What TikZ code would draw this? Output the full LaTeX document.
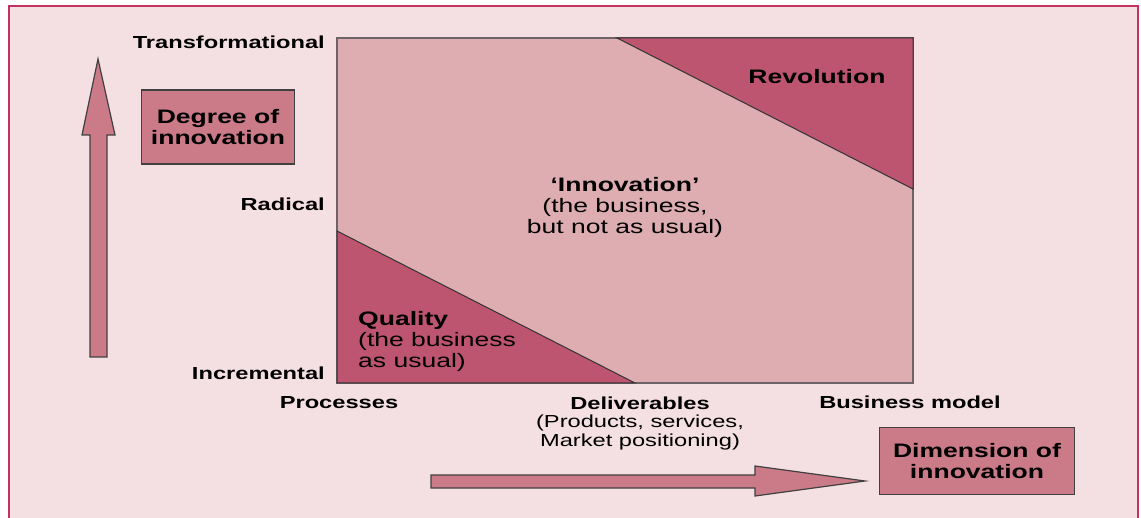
\documentclass[tikz,border=0pt]{standalone}
\usepackage{fontspec}
\setmainfont{Liberation Sans}[FakeStretch=1.36]

\definecolor{framered}{HTML}{C2335F}
\definecolor{paper}{HTML}{F4E0E3}
\definecolor{squarepink}{HTML}{DEADB2}
\definecolor{deeprose}{HTML}{BD5570}
\definecolor{boxrose}{HTML}{CB7A87}
\definecolor{edgegray}{HTML}{6E6467}

\tikzset{
    axislabel/.style={font=\fontsize{17.4}{19}\selectfont\bfseries, inner sep=0pt},
    sublabel/.style={font=\fontsize{17.4}{19}\selectfont, inner sep=0pt, align=center},
    zonetext/.style={font=\fontsize{19.5}{21}\selectfont, inner sep=0pt},
    labelbox/.style={draw=black!75, line width=1.3pt, fill=boxrose, align=center,
        font=\fontsize{19.5}{20.5}\selectfont\bfseries, inner sep=0pt}
}

\begin{document}
\begin{tikzpicture}[x=1pt,y=-1pt]
    \clip (0,0) rectangle (1141,518);
    \fill[white] (0,0) rectangle (1141,518);

    % Outer panel
    \draw[framered, line width=2pt, fill=paper] (9,6) rectangle (1138,530);

    % Define points of the square
    \coordinate (nw) at (337,38);
    \coordinate (ne) at (913,38);
    \coordinate (se) at (913,383);
    \coordinate (sw) at (337,383);
    \coordinate (rev1) at (617,38);
    \coordinate (rev2) at (913,189);
    \coordinate (qual1) at (337,231);
    \coordinate (qual2) at (635,383);

    % Draw square and corner zones
    \draw[edgegray, line width=1.3pt, fill=squarepink] (nw) rectangle (se);
    \draw[black!80, line width=1pt, fill=deeprose] (rev1) -- (ne) -- (rev2) -- cycle;
    \draw[black!80, line width=1pt, fill=deeprose] (qual1) -- (sw) -- (qual2) -- cycle;

    % Zone texts (base anchor sits on the last line)
    \node[zonetext, anchor=base, font=\fontsize{19.5}{21}\selectfont\bfseries] (revolution) at (817,84) {Revolution};
    \node[zonetext, anchor=base, align=center] (innovation) at (625,234)
        {\textbf{`Innovation'}\\(the business,\\but not as usual)};
    \node[zonetext, anchor=base west, align=left] (quality) at (358,368)
        {\textbf{Quality}\\(the business\\as usual)};

    % Degree axis labels
    \node[axislabel, anchor=base east] (transf) at (325,49) {Transformational};
    \node[axislabel, anchor=base east] (radical) at (325,211) {Radical};
    \node[axislabel, anchor=base east] (incr) at (325,380) {Incremental};

    % Dimension axis labels
    \node[axislabel, anchor=base] (proc) at (339,409) {Processes};
    \node[sublabel, anchor=base] (deliv) at (640,447)
        {\textbf{Deliverables}\\(Products, services,\\Market positioning)};
    \node[axislabel, anchor=base] (bmodel) at (910,409) {Business model};

    % Arrows
    \draw[black!75, line width=1.2pt, fill=boxrose]
        (90,357) -- (90,135) -- (82,135) -- (98,59) -- (115,135)
        -- (107,135) -- (107,357) -- cycle;
    \draw[black!75, line width=1.2pt, fill=boxrose]
        (431,475) -- (755,475) -- (755,466) -- (865,481) -- (755,496)
        -- (755,488) -- (431,488) -- cycle;

    % Axis titles
    \node[labelbox, minimum width=153pt, minimum height=74pt] (degree) at (218,127)
        {Degree of\\innovation};
    \node[labelbox, minimum width=195pt, minimum height=67pt] (dimension) at (977,461)
        {Dimension of\\innovation};
\end{tikzpicture}
\end{document}
